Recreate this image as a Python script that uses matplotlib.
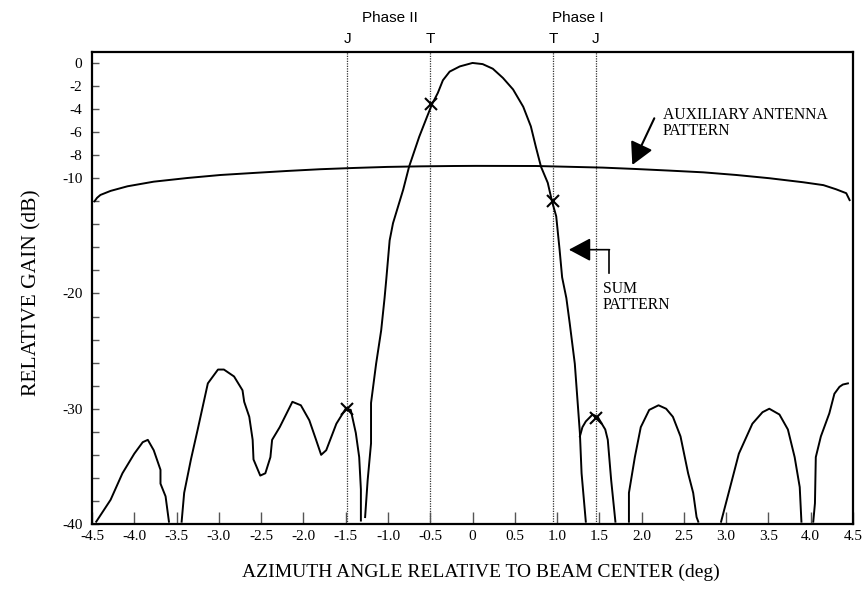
import matplotlib
matplotlib.use("Agg")
import matplotlib.pyplot as plt
import numpy as np

SERIF = "Liberation Serif"
SANS = "Liberation Sans"

# ---------------- data ----------------
# Auxiliary antenna pattern (dB vs azimuth deg)
aux_x = [-4.47, -4.44, -4.40, -4.28, -4.08, -3.77, -3.37, -2.98, -2.58, -2.19, -1.80,
         -1.40, -1.01, -0.61, -0.22, 0.04, 0.75, 1.54, 1.93, 2.33, 2.73, 3.12,
         3.51, 3.91, 4.15, 4.30, 4.42, 4.46]
aux_db = [-12.0, -11.7, -11.45, -11.1, -10.7, -10.3, -9.98, -9.72, -9.54, -9.37, -9.22,
          -9.11, -9.02, -8.97, -8.94, -8.93, -8.94, -9.08, -9.20, -9.34, -9.49, -9.72,
          -10.0, -10.35, -10.6, -10.96, -11.3, -11.9]

# Sum pattern, drawn lobe by lobe (gaps where it falls below -40 dB)
lobe1_x = [-4.45, -4.28, -4.14, -4.00, -3.90, -3.84, -3.77, -3.69, -3.69, -3.63, -3.59]
lobe1_db = [-39.8, -37.9, -35.6, -33.9, -32.9, -32.7, -33.6, -35.3, -36.5, -37.6, -39.8]

lobe2_x = [-3.44, -3.41, -3.33, -3.25, -3.13, -3.01, -2.94, -2.82, -2.72, -2.70, -2.64,
           -2.60, -2.59, -2.51, -2.45, -2.39, -2.37, -2.28, -2.13, -2.03, -1.93, -1.85,
           -1.79, -1.73, -1.61, -1.50, -1.44, -1.38, -1.34, -1.32, -1.32]
lobe2_db = [-39.8, -37.3, -34.4, -31.8, -27.8, -26.6, -26.6, -27.2, -28.4, -29.4, -30.7,
            -32.7, -34.4, -35.8, -35.6, -34.2, -32.7, -31.6, -29.4, -29.7, -31.0, -32.7,
            -34.0, -33.6, -31.3, -30.0, -30.1, -32.1, -34.2, -37.0, -39.7]

main_x = [-1.27, -1.24, -1.20, -1.20, -1.14, -1.08, -1.04, -1.02, -0.98, -0.94, -0.82,
          -0.75, -0.63, -0.55, -0.48, -0.41, -0.35, -0.27, -0.15, 0.00, 0.12, 0.24,
          0.36, 0.48, 0.60, 0.69, 0.75, 0.81, 0.89, 0.94, 0.99, 1.03, 1.06, 1.11,
          1.15, 1.21, 1.27, 1.29, 1.34]
main_db = [-39.4, -36.2, -33.0, -29.5, -26.1, -23.2, -20.4, -18.8, -15.4, -13.9, -11.0,
           -9.0, -6.4, -4.9, -3.6, -2.6, -1.5, -0.75, -0.3, 0.0, -0.1, -0.5,
           -1.3, -2.3, -3.8, -5.5, -7.3, -9.0, -10.4, -12.0, -13.3, -16.2, -18.6, -20.4,
           -22.6, -26.1, -32.1, -35.6, -39.8]

lobe3_x = [1.27, 1.30, 1.34, 1.42, 1.48, 1.57, 1.60, 1.64, 1.69]
lobe3_db = [-32.4, -31.6, -31.1, -30.5, -30.7, -31.8, -32.7, -36.2, -39.8]

lobe4_x = [1.85, 1.85, 1.92, 1.99, 2.09, 2.20, 2.29, 2.37, 2.46, 2.55, 2.61, 2.65, 2.67]
lobe4_db = [-39.8, -37.3, -34.2, -31.6, -30.1, -29.7, -30.0, -30.7, -32.4, -35.6, -37.3,
            -39.4, -39.8]

lobe5_x = [2.94, 3.04, 3.15, 3.31, 3.43, 3.51, 3.63, 3.73, 3.81, 3.87, 3.89]
lobe5_db = [-39.8, -37.0, -33.9, -31.3, -30.3, -30.0, -30.5, -31.8, -34.2, -36.8, -39.8]

lobe6_x = [4.03, 4.05, 4.06, 4.12, 4.22, 4.28, 4.34, 4.38, 4.44]
lobe6_db = [-39.8, -38.2, -34.2, -32.4, -30.4, -28.7, -28.1, -27.9, -27.8]

# Jammer / target positions (vertical dotted lines) and the marked points
line_x = [-1.48, -0.50, 0.95, 1.46]
line_labels = ["J", "T", "T", "J"]
mark_x = [-1.48, -0.49, 0.95, 1.46]
mark_db = [-30.0, -3.6, -12.0, -30.8]

phase_labels = ["Phase II", "Phase I"]
phase_x = [-0.98, 1.24]

xtick_vals = [-4.5, -4.0, -3.5, -3.0, -2.5, -2.0, -1.5, -1.0, -0.5, 0, 0.5, 1.0,
              1.5, 2.0, 2.5, 3.0, 3.5, 4.0, 4.5]
xtick_labels = ["-4.5", "-4.0", "-3.5", "-3.0", "-2.5", "-2.0", "-1.5", "-1.0", "-0.5",
                "0", "0.5", "1.0", "1.5", "2.0", "2.5", "3.0", "3.5", "4.0", "4.5"]
ytick_vals = list(range(-40, 1, 2))
ytick_labels = ["-40", "", "", "", "", "-30", "", "", "", "", "-20", "", "", "", "",
                "-10", "-8", "-6", "-4", "-2", "0"]

# ---------------- figure ----------------
W, H = 863, 600
fig = plt.figure(figsize=(W / 100, H / 100), dpi=100)
ax = fig.add_axes([92 / W, 1 - 524 / H, (853 - 92) / W, (524 - 52) / H])
ax.set_xlim(-4.5, 4.5)
ax.set_ylim(-40, 0.95)

for s in ax.spines.values():
    s.set_linewidth(1.6)
    s.set_color("black")

# vertical reference lines
for x in line_x:
    ax.axvline(x, color="#333333", lw=0.9, ls=(0, (1, 1)), zorder=1)

# curves
lw = 1.4
ax.plot(aux_x, aux_db, color="black", lw=lw, zorder=3)
for xs, ys in [(lobe1_x, lobe1_db), (lobe2_x, lobe2_db), (main_x, main_db),
               (lobe3_x, lobe3_db), (lobe4_x, lobe4_db), (lobe5_x, lobe5_db),
               (lobe6_x, lobe6_db)]:
    ax.plot(xs, ys, color="black", lw=lw, zorder=3)

ax.plot(mark_x, mark_db, ls="none", marker="x", ms=8, mew=1.5, color="black", zorder=4)

# ticks
ax.set_xticks(xtick_vals)
ax.set_xticklabels(xtick_labels)
ax.set_yticks(ytick_vals)
ax.set_yticklabels(ytick_labels)
ax.tick_params(axis="x", direction="in", length=9, width=1, color="#555555", pad=4,
               labelsize=11)
ax.tick_params(axis="y", direction="in", length=5, width=1, color="#555555", pad=7,
               labelsize=11)
for lab in ax.get_xticklabels() + ax.get_yticklabels():
    lab.set_fontfamily(SERIF)

# axis labels
ax.set_xlabel("AZIMUTH ANGLE RELATIVE TO BEAM CENTER (deg)", fontfamily=SERIF,
              fontsize=14, va="center")
ax.xaxis.set_label_coords((481 - 92) / 761, (524 - 572) / 472)
ax.set_ylabel("RELATIVE GAIN (dB)", fontfamily=SERIF, fontsize=15.5, va="center")
ax.yaxis.set_label_coords((32 - 92) / 761, (524 - 293) / 472)

# labels above the plot
tr = ax.get_xaxis_transform()
for x, t in zip(line_x, line_labels):
    ax.text(x, 1.0275, t, transform=tr, ha="center", va="center", fontfamily=SANS,
            fontsize=11, clip_on=False)
for x, t in zip(phase_x, phase_labels):
    ax.text(x, 1.072, t, transform=tr, ha="center", va="center", fontfamily=SANS,
            fontsize=11, clip_on=False)

# annotations
ax.text(2.25, -3.85, "AUXILIARY ANTENNA\nPATTERN", fontfamily=SERIF, fontsize=11.3,
        ha="left", va="top", linespacing=1.0)
ax.annotate("", xy=(1.89, -8.85), xytext=(2.15, -4.8),
            arrowprops=dict(arrowstyle="-|>,head_length=0.75,head_width=0.4",
                            color="black", lw=1.5, mutation_scale=18,
                            shrinkA=0, shrinkB=0))

ax.text(1.54, -18.9, "SUM\nPATTERN", fontfamily=SERIF, fontsize=11.3,
        ha="left", va="top", linespacing=1.0)
ax.plot([1.62, 1.62], [-18.2, -16.2], color="black", lw=1.2)
ax.annotate("", xy=(1.14, -16.2), xytext=(1.62, -16.2),
            arrowprops=dict(arrowstyle="-|>,head_length=0.75,head_width=0.4",
                            color="black", lw=1.2, mutation_scale=18,
                            shrinkA=0, shrinkB=0))

fig.savefig("out.png", dpi=100)
